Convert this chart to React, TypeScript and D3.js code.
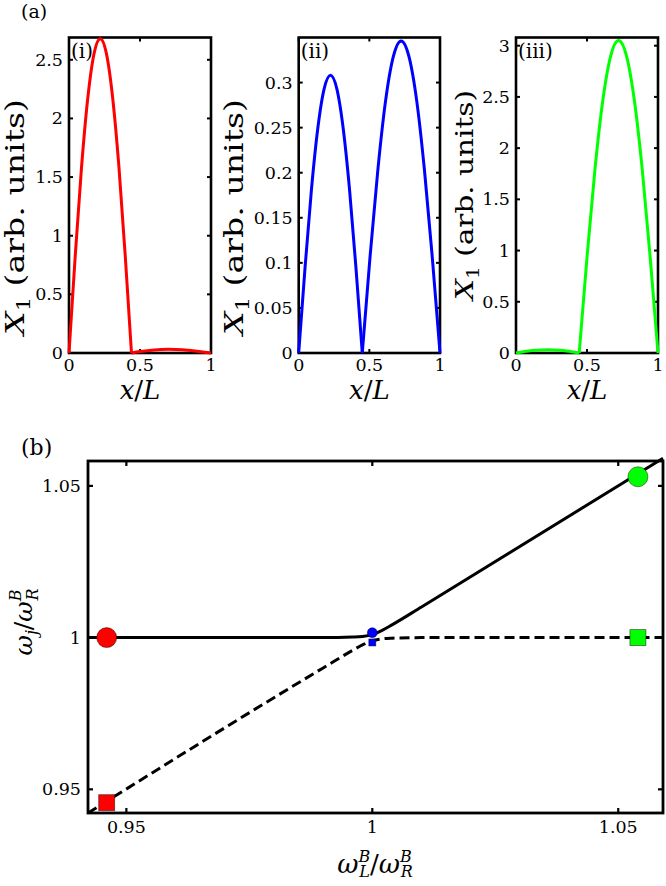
import React from "react";
import * as d3 from "d3";

// ---------- data ----------
const xTicksTop = [0, 0.5, 1];
const xTickLabelsTop = ["0", "0.5", "1"];

const yTicksI = [0, 0.5, 1, 1.5, 2, 2.5];
const yLabelsI = ["0", "0.5", "1", "1.5", "2", "2.5"];
const yTicksII = [0, 0.05, 0.1, 0.15, 0.2, 0.25, 0.3];
const yLabelsII = ["0", "0.05", "0.1", "0.15", "0.2", "0.25", "0.3"];
const yTicksIII = [0, 0.5, 1, 1.5, 2, 2.5, 3];
const yLabelsIII = ["0", "0.5", "1", "1.5", "2", "2.5", "3"];

const yMaxTop = [2.69, 0.35, 3.08];

// panel (i), red
const archI1X = [0, 0.044, 0.088, 0.132, 0.176, 0.22, 0.264, 0.308, 0.352, 0.396, 0.44];
const archI1Y = [0, 0.83, 1.58, 2.17, 2.55, 2.68, 2.55, 2.17, 1.58, 0.83, 0];
const archI2X = [0.44, 0.5, 0.6, 0.7, 0.8, 0.9, 1];
const archI2Y = [0, 0.012, 0.026, 0.031, 0.027, 0.015, 0];
// panel (ii), blue
const archII1X = [0, 0.045, 0.09, 0.135, 0.18, 0.225, 0.27, 0.315, 0.36, 0.405, 0.45];
const archII1Y = [0, 0.095, 0.181, 0.249, 0.293, 0.308, 0.293, 0.249, 0.181, 0.095, 0];
const archII2X = [0.45, 0.505, 0.56, 0.615, 0.67, 0.725, 0.78, 0.835, 0.89, 0.945, 1];
const archII2Y = [0, 0.107, 0.203, 0.28, 0.329, 0.346, 0.329, 0.28, 0.203, 0.107, 0];
// panel (iii), green
const archIII1X = [0, 0.0445, 0.089, 0.1335, 0.178, 0.2225, 0.267, 0.3115, 0.356, 0.4005, 0.445];
const archIII1Y = [0, 0.01, 0.019, 0.026, 0.03, 0.032, 0.03, 0.026, 0.019, 0.01, 0];
const archIII2X = [0.445, 0.5005, 0.556, 0.6115, 0.667, 0.7225, 0.778, 0.8335, 0.889, 0.9445, 1];
const archIII2Y = [0, 0.942, 1.793, 2.467, 2.901, 3.05, 2.901, 2.467, 1.793, 0.942, 0];

// panel (b)
const xDomB = [0.9422, 1.0591];
const yDomB = [0.9422, 1.0582];
const ticksB = [0.95, 1, 1.05];
const tickLabelsB = ["0.95", "1", "1.05"];
const branchX = [0.9422, 0.99, 0.996, 0.998, 1.0, 1.002, 1.004, 1.01, 1.0591];
const upperY = [1.0, 1.0, 1.0002, 1.0004, 1.001, 1.0024, 1.0042, 1.0101, 1.0591];
const lowerY = [0.9422, 0.99, 0.9958, 0.9976, 0.999, 0.9996, 0.9998, 1.0, 1.0];
const circleX = [0.946, 1.0, 1.054];
const circleY = [1.0, 1.0016, 1.053];
const squareX = [0.946, 1.0, 1.054];
const squareY = [0.9456, 0.9984, 1.0];
const markerColors = ["#ff0000", "#0000ff", "#00ff00"];

const FONT = "'DejaVu Serif', serif";
const TICK_FS = 17.5;

function TopPanel(props: any) {
  const { x0, x1, yTop, yBot, yMax, yTicks, yLabels, arches, color, tag, labelX, labelY, labelLen, labelFs } = props;
  const xs = d3.scaleLinear().domain([0, 1]).range([x0, x1]);
  const ys = d3.scaleLinear().domain([0, yMax]).range([yBot, yTop]);
  const line = d3
    .line<[number, number]>()
    .x((d) => xs(d[0]))
    .y((d) => ys(d[1]))
    .curve(d3.curveMonotoneX);
  const tl = 4;
  return (
    <g>
      {xTicksTop.map((t, i) => (
        <g key={"xt" + i}>
          <line x1={xs(t)} x2={xs(t)} y1={yBot} y2={yBot - tl} stroke="#000" strokeWidth={2} />
          <line x1={xs(t)} x2={xs(t)} y1={yTop} y2={yTop + tl} stroke="#000" strokeWidth={2} />
          <text x={xs(t)} y={yBot + 18} textAnchor="middle" fontSize={TICK_FS} fontFamily={FONT}>
            {xTickLabelsTop[i]}
          </text>
        </g>
      ))}
      {yTicks.map((t: number, i: number) => (
        <g key={"yt" + i}>
          <line x1={x0} x2={x0 + tl} y1={ys(t)} y2={ys(t)} stroke="#000" strokeWidth={2} />
          <line x1={x1} x2={x1 - tl} y1={ys(t)} y2={ys(t)} stroke="#000" strokeWidth={2} />
          <text x={x0 - 6} y={ys(t) + 6} textAnchor="end" fontSize={TICK_FS} fontFamily={FONT}>
            {yLabels[i]}
          </text>
        </g>
      ))}
      <rect x={x0} y={yTop} width={x1 - x0} height={yBot - yTop} fill="none" stroke="#000" strokeWidth={2.6} />
      {arches.map((a: [number[], number[]], i: number) => (
        <path
          key={"a" + i}
          d={line(a[0].map((v, j) => [v, a[1][j]] as [number, number])) || ""}
          fill="none"
          stroke={color}
          strokeWidth={3}
          strokeLinejoin="round"
        />
      ))}
      <text x={x0 + 2} y={yTop + 20} fontSize={20} fontFamily={FONT}>
        {tag}
      </text>
      <text
        transform={`translate(${labelX},${labelY}) rotate(-90)`}
        textAnchor="middle"
        fontSize={labelFs}
        fontFamily={FONT}
        textLength={labelLen}
        lengthAdjust="spacingAndGlyphs"
      >
        <tspan fontStyle="italic">X</tspan>
        <tspan fontSize={labelFs * 0.68} dy={6}>1</tspan>
        <tspan dy={-6}> (arb. units)</tspan>
      </text>
      <text x={(x0 + x1) / 2} y={399} textAnchor="middle" fontSize={26} fontFamily={FONT}>
        <tspan fontStyle="italic">x</tspan>
        <tspan>/</tspan>
        <tspan fontStyle="italic">L</tspan>
      </text>
    </g>
  );
}

function BottomPanel() {
  const x0 = 88, x1 = 663, yTop = 461, yBot = 813;
  const xs = d3.scaleLinear().domain(xDomB).range([x0, x1]);
  const ys = d3.scaleLinear().domain(yDomB).range([yBot, yTop]);
  const line = d3
    .line<[number, number]>()
    .x((d) => xs(d[0]))
    .y((d) => ys(d[1]))
    .curve(d3.curveMonotoneX);
  const up = branchX.map((v, i) => [v, upperY[i]] as [number, number]);
  const lo = branchX.map((v, i) => [v, lowerY[i]] as [number, number]);
  const tl = 5;
  const rBig = 10, sBig = 16, rSmall = 5, sSmall = 7;
  return (
    <g>
      {ticksB.map((t, i) => (
        <g key={"bt" + i}>
          <line x1={xs(t)} x2={xs(t)} y1={yBot} y2={yBot - tl} stroke="#000" strokeWidth={2.2} />
          <line x1={xs(t)} x2={xs(t)} y1={yTop} y2={yTop + tl} stroke="#000" strokeWidth={2.2} />
          <line x1={x0} x2={x0 + tl} y1={ys(t)} y2={ys(t)} stroke="#000" strokeWidth={2.2} />
          <line x1={x1} x2={x1 - tl} y1={ys(t)} y2={ys(t)} stroke="#000" strokeWidth={2.2} />
          <text x={xs(t)} y={yBot + 20} textAnchor="middle" fontSize={TICK_FS} fontFamily={FONT}>
            {tickLabelsB[i]}
          </text>
          <text x={x0 - 7} y={ys(t) + 6} textAnchor="end" fontSize={TICK_FS} fontFamily={FONT}>
            {tickLabelsB[i]}
          </text>
        </g>
      ))}
      <rect x={x0} y={yTop} width={x1 - x0} height={yBot - yTop} fill="none" stroke="#000" strokeWidth={2.8} />
      <path d={line(lo) || ""} fill="none" stroke="#000" strokeWidth={3} strokeDasharray="10,5" />
      <path d={line(up) || ""} fill="none" stroke="#000" strokeWidth={3} />
      {squareX.map((v, i) => {
        const s = i === 1 ? sSmall : sBig;
        return (
          <rect
            key={"s" + i}
            x={xs(v) - s / 2}
            y={ys(squareY[i]) - s / 2}
            width={s}
            height={s}
            fill={markerColors[i]}
            stroke="rgba(0,0,0,0.55)"
            strokeWidth={0.8}
          />
        );
      })}
      {circleX.map((v, i) => (
        <circle
          key={"c" + i}
          cx={xs(v)}
          cy={ys(circleY[i])}
          r={i === 1 ? rSmall : rBig}
          fill={markerColors[i]}
          stroke="rgba(0,0,0,0.55)"
          strokeWidth={0.8}
        />
      ))}
      <text
        transform={`translate(32,622) rotate(-90)`}
        textAnchor="middle"
        fontSize={25}
        fontFamily={FONT}
      >
        <tspan fontStyle="italic">ω</tspan>
        <tspan fontStyle="italic" fontSize={16} dy={5}>j</tspan>
        <tspan dy={-5}>/</tspan>
        <tspan fontStyle="italic">ω</tspan>
        <tspan fontStyle="italic" fontSize={16} dy={-11}>B</tspan>
        <tspan fontStyle="italic" fontSize={16} dx={-11} dy={17}>R</tspan>
      </text>
      <text x={375} y={873} textAnchor="middle" fontSize={26} fontFamily={FONT}>
        <tspan fontStyle="italic">ω</tspan>
        <tspan fontStyle="italic" fontSize={16} dy={-11}>B</tspan>
        <tspan fontStyle="italic" fontSize={16} dx={-11} dy={15}>L</tspan>
        <tspan dy={-4}>/</tspan>
        <tspan fontStyle="italic">ω</tspan>
        <tspan fontStyle="italic" fontSize={16} dy={-11}>B</tspan>
        <tspan fontStyle="italic" fontSize={16} dx={-11} dy={15}>R</tspan>
      </text>
    </g>
  );
}

export default function App() {
  const yTop = 37.5, yBot = 353;
  return (
    <svg
      width={666}
      height={886}
      viewBox="0 0 666 886"
      style={{ position: "absolute", left: 0, top: 0, background: "#fff" }}
    >
      <rect x={0} y={0} width={666} height={886} fill="#fff" />
      <text x={21} y={18} fontSize={19} fontFamily={FONT}>(a)</text>
      <text x={21} y={455} fontSize={22} fontFamily={FONT}>(b)</text>
      <TopPanel
        x0={69} x1={211} yTop={yTop} yBot={yBot} yMax={yMaxTop[0]}
        yTicks={yTicksI} yLabels={yLabelsI}
        arches={[[archI1X, archI1Y], [archI2X, archI2Y]]}
        color="#ff0000" tag="(i)" labelX={24} labelY={217} labelLen={236} labelFs={26}
      />
      <TopPanel
        x0={298.7} x1={440} yTop={yTop} yBot={yBot} yMax={yMaxTop[1]}
        yTicks={yTicksII} yLabels={yLabelsII}
        arches={[[archII1X, archII1Y], [archII2X, archII2Y]]}
        color="#0000ff" tag="(ii)" labelX={243} labelY={217} labelLen={236} labelFs={26}
      />
      <TopPanel
        x0={516} x1={658} yTop={yTop} yBot={yBot} yMax={yMaxTop[2]}
        yTicks={yTicksIII} yLabels={yLabelsIII}
        arches={[[archIII1X, archIII1Y], [archIII2X, archIII2Y]]}
        color="#00ff00" tag="(iii)" labelX={473} labelY={195} labelLen={210} labelFs={25}
      />
      <BottomPanel />
    </svg>
  );
}
